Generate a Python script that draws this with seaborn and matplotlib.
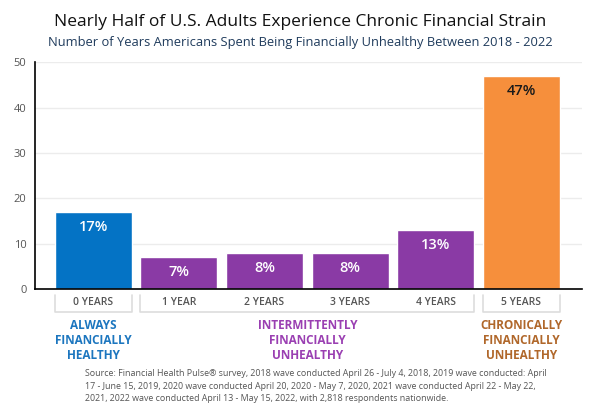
import pandas as pd
import matplotlib.pyplot as plt
import seaborn as sns

# -----------------------------
# Data
# -----------------------------
years = ["0 YEARS", "1 YEAR", "2 YEARS", "3 YEARS", "4 YEARS", "5 YEARS"]
share = [17, 7, 8, 8, 13, 47]
bar_colors = ["#0473C5", "#8A3AA5", "#8A3AA5", "#8A3AA5", "#8A3AA5", "#F68F3C"]
label_colors = ["white", "white", "white", "white", "white", "#1a1a1a"]

groups = ["ALWAYS\nFINANCIALLY\nHEALTHY",
          "INTERMITTENTLY\nFINANCIALLY\nUNHEALTHY",
          "CHRONICALLY\nFINANCIALLY\nUNHEALTHY"]
group_span = [(0, 0), (1, 4), (5, 5)]
group_colors = ["#1C76BF", "#9A3FB2", "#B0672A"]

source = ("Source: Financial Health Pulse\u00ae survey, 2018 wave conducted April 26 - July 4, 2018, 2019 wave conducted: April\n"
          "17 - June 15, 2019, 2020 wave conducted April 20, 2020 - May 7, 2020, 2021 wave conducted April 22 - May 22,\n"
          "2021, 2022 wave conducted April 13 - May 15, 2022, with 2,818 respondents nationwide.")

df = pd.DataFrame({"Years": years, "Share": share})

# -----------------------------
# Style
# -----------------------------
sns.set_theme(style="white")
plt.rcParams["font.family"] = ["Open Sans", "DejaVu Sans"]

fig = plt.figure(figsize=(6, 4.17), dpi=100)
ax = fig.add_axes([0.058, 0.307, 0.912, 0.544])

sns.barplot(data=df, x="Years", y="Share", hue="Years", palette=bar_colors,
            width=0.9, legend=False, ax=ax, zorder=3, saturation=1)

ax.set_xlim(-0.683, 5.707)
ax.set_ylim(0, 50)
ax.set_yticks([0, 10, 20, 30, 40, 50])
ax.yaxis.grid(True, color="#ececec", linewidth=1, zorder=0)
ax.tick_params(axis="y", labelsize=8, labelcolor="#555555", length=0, pad=6)
ax.tick_params(axis="x", labelsize=7.5, labelcolor="#555555", length=0, pad=6)
ax.set_xticks(range(len(years)))
ax.set_xticklabels(years, fontweight="semibold")
ax.set_xlabel("")
ax.set_ylabel("")

for side in ["top", "right"]:
    ax.spines[side].set_visible(False)
for side in ["left", "bottom"]:
    ax.spines[side].set_color("black")
    ax.spines[side].set_linewidth(1.2)
    ax.spines[side].set_zorder(4)

# value labels inside the bars
for i, (v, c) in enumerate(zip(share, label_colors)):
    ax.text(i, v - 3.3, f"{v}%", ha="center", va="center", fontsize=10.5,
            fontweight="semibold", color=c, zorder=5)

# brackets under the axis
for (a, b) in group_span:
    x0, x1 = a - 0.45, b + 0.45
    ax.plot([x0, x0, x1, x1], [-1.3, -5.1, -5.1, -1.3], color="#dddddd",
            linewidth=1.2, clip_on=False)

# group labels
for (a, b), txt, c in zip(group_span, groups, group_colors):
    ax.text((a + b) / 2, -6.6, txt, ha="center", va="top", fontsize=8.5,
            fontweight="bold", color=c, linespacing=1.2, clip_on=False)

# titles and source
fig.text(0.5, 0.947, "Nearly Half of U.S. Adults Experience Chronic Financial Strain",
         ha="center", va="center", fontsize=12.5, fontweight="medium", color="#111111")
fig.text(0.5, 0.898, "Number of Years Americans Spent Being Financially Unhealthy Between 2018 - 2022",
         ha="center", va="center", fontsize=9.3, color="#1F3B5C")
fig.text(0.142, 0.074, source, ha="left", va="center", fontsize=6.4,
         color="#555555", linespacing=1.45)

fig.savefig("out.png", dpi=100)
